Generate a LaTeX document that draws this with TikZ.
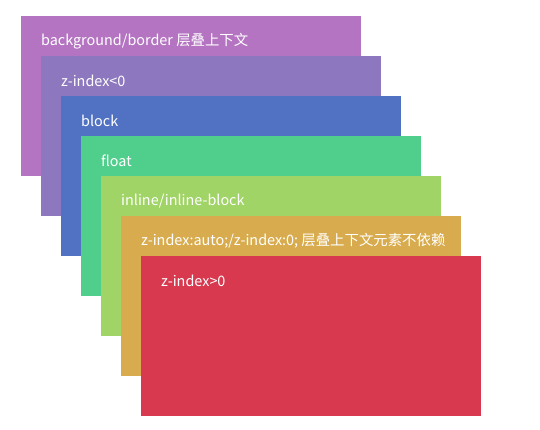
\documentclass[tikz,border=0pt]{standalone}
\usepackage{fontspec}
\setmainfont{Noto Sans CJK SC}
\definecolor{cBg}{HTML}{B474C2}
\definecolor{cNeg}{HTML}{8D77BF}
\definecolor{cBlock}{HTML}{5172C2}
\definecolor{cFloat}{HTML}{50CE8C}
\definecolor{cInline}{HTML}{A0D466}
\definecolor{cAuto}{HTML}{D8AC4E}
\definecolor{cPos}{HTML}{D8394F}
\begin{document}
\begin{tikzpicture}[x=1pt, y=-1pt,
  layer/.style={rectangle, anchor=north west, inner sep=0pt, minimum width=340pt, minimum height=160pt},
  layertext/.style={anchor=west, text=white, inner sep=0pt, font=\fontsize{14.4pt}{16pt}\selectfont, xshift=20pt, yshift=-25pt}]
\useasboundingbox (0,0) rectangle (540,430);
\node[layer, fill=cBg] (bg) at (21,16){};
\node[layertext] (tbg) at (bg.north west){background/border 层叠上下文};
\node[layer, fill=cNeg] (neg) at (41,56){};
\node[layertext] (tneg) at (neg.north west){z-index<0};
\node[layer, fill=cBlock] (blk) at (61,96){};
\node[layertext] (tblk) at (blk.north west){block};
\node[layer, fill=cFloat] (flt) at (81,136){};
\node[layertext] (tflt) at (flt.north west){float};
\node[layer, fill=cInline] (inl) at (101,176){};
\node[layertext] (tinl) at (inl.north west){inline/inline-block};
\node[layer, fill=cAuto] (aut) at (121,216){};
\node[layertext] (taut) at (aut.north west){z-index:auto;/z-index:0; 层叠上下文元素不依赖};
\node[layer, fill=cPos] (pos) at (141,256){};
\node[layertext] (tpos) at (pos.north west){z-index>0};
\end{tikzpicture}
\end{document}
